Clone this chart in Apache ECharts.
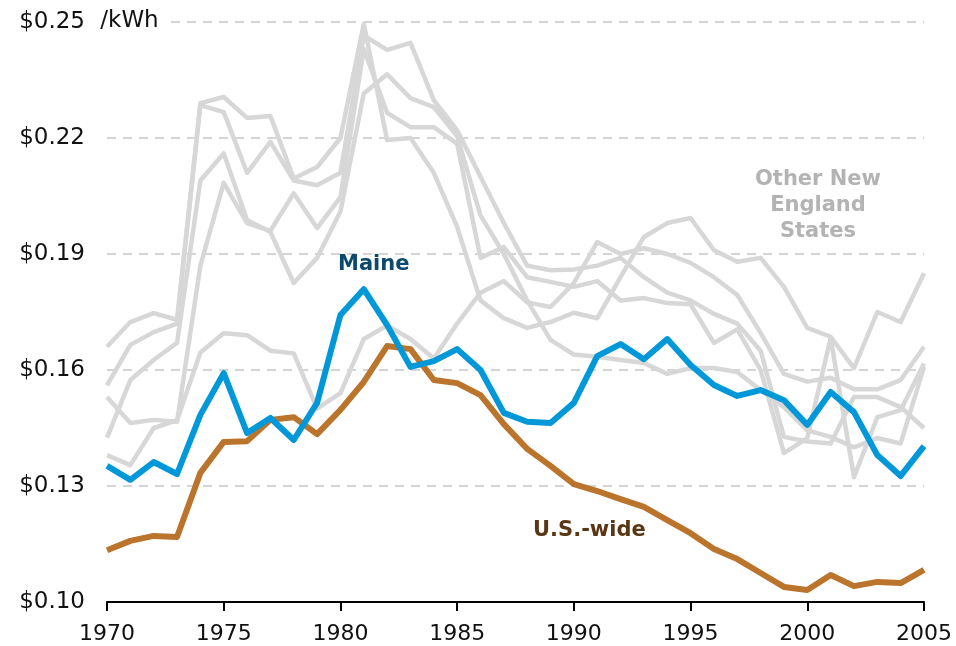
<!DOCTYPE html>
<html>
<head>
<meta charset="utf-8">
<script src="https://cdn.jsdelivr.net/npm/echarts@6/dist/echarts.min.js"></script>
<style>
  html, body { margin: 0; padding: 0; background: #fff; }
  #chart { width: 956px; height: 646px; }
</style>
</head>
<body>
<div id="chart"></div>
<script>
// years on the x axis
var years = [1970, 1971, 1972, 1973, 1974, 1975, 1976, 1977, 1978, 1979,
             1980, 1981, 1982, 1983, 1984, 1985, 1986, 1987, 1988, 1989,
             1990, 1991, 1992, 1993, 1994, 1995, 1996, 1997, 1998, 1999,
             2000, 2001, 2002, 2003, 2004, 2005];

// $/kWh
var maine = [0.1352, 0.1316, 0.1362, 0.1331, 0.1484, 0.1592, 0.1437, 0.1476, 0.1419, 0.1515,
             0.1742, 0.1809, 0.1716, 0.1608, 0.1623, 0.1654, 0.1600, 0.1489, 0.1466, 0.1463,
             0.1515, 0.1636, 0.1667, 0.1628, 0.1680, 0.1613, 0.1561, 0.1533, 0.1548, 0.1522,
             0.1458, 0.1543, 0.1491, 0.1380, 0.1326, 0.1403];

var usWide = [0.1134, 0.1158, 0.1171, 0.1168, 0.1334, 0.1414, 0.1416, 0.1471, 0.1478, 0.1434,
              0.1497, 0.1569, 0.1662, 0.1654, 0.1574, 0.1566, 0.1535, 0.1460, 0.1396, 0.1352,
              0.1305, 0.1287, 0.1266, 0.1246, 0.1212, 0.1178, 0.1137, 0.1111, 0.1075, 0.1039,
              0.1031, 0.1070, 0.1041, 0.1052, 0.1049, 0.1083];

// the other five New England states (grey)
var other1 = [0.166, 0.1724, 0.1747, 0.173, 0.229, 0.2306, 0.2252, 0.2257, 0.2095, 0.2125,
              0.220, 0.2495, 0.2195, 0.220, 0.211, 0.197, 0.178, 0.1734, 0.1709, 0.1724,
              0.1748, 0.1734, 0.184, 0.1944, 0.198, 0.1993, 0.191, 0.188, 0.189, 0.1815,
              0.1709, 0.1686, 0.1605, 0.175, 0.1724, 0.185];
var other2 = [0.156, 0.1665, 0.1698, 0.172, 0.2285, 0.2267, 0.211, 0.219, 0.209, 0.2078,
              0.211, 0.2465, 0.2428, 0.2446, 0.2298, 0.222, 0.210, 0.198, 0.187, 0.1858,
              0.186, 0.187, 0.189, 0.184, 0.180, 0.178, 0.1745, 0.172, 0.165, 0.1427,
              0.1415, 0.141, 0.153, 0.153, 0.1504, 0.145];
var other3 = [0.1425, 0.1574, 0.1626, 0.167, 0.209, 0.216, 0.1988, 0.1957, 0.1825, 0.189,
              0.201, 0.2315, 0.2365, 0.2303, 0.228, 0.2205, 0.200, 0.190, 0.178, 0.1678,
              0.164, 0.1634, 0.1626, 0.1618, 0.159, 0.1605, 0.1605, 0.1595, 0.1548, 0.1504,
              0.1444, 0.1427, 0.140, 0.1424, 0.141, 0.1608];
var other4 = [0.153, 0.1463, 0.1471, 0.1466, 0.187, 0.2084, 0.198, 0.196, 0.2057, 0.1967,
              0.2047, 0.243, 0.2265, 0.2228, 0.2228, 0.2185, 0.189, 0.1918, 0.184, 0.1828,
              0.1815, 0.183, 0.178, 0.1786, 0.1773, 0.177, 0.167, 0.1705, 0.160, 0.1385,
              0.1424, 0.1683, 0.1323, 0.1478, 0.1496, 0.1617];
var other5 = [0.138, 0.1354, 0.145, 0.147, 0.1645, 0.1695, 0.169, 0.165, 0.1643, 0.150,
              0.154, 0.168, 0.1715, 0.168, 0.163, 0.172, 0.180, 0.183, 0.1775, 0.1763,
              0.1825, 0.1931, 0.190, 0.1915, 0.190, 0.1877, 0.184, 0.1794, 0.1696, 0.159,
              0.157, 0.158, 0.155, 0.155, 0.1574, 0.166];

var yTicks = [0.10, 0.13, 0.16, 0.19, 0.22, 0.25];

function pairs(vals) {
    return years.map(function (y, i) { return [y, vals[i]]; });
}

function greyLine(name, vals) {
    return {
        name: name,
        type: 'line',
        data: pairs(vals),
        symbol: 'none',
        silent: true,
        lineStyle: { color: '#d7d7d7', width: 4.5, join: 'round' },
        z: 2
    };
}

var font = 'DejaVu Sans, Verdana, sans-serif';
var chart = echarts.init(document.getElementById('chart'));

chart.setOption({
    animation: false,
    grid: { left: 107, right: 32, top: 22, bottom: 44 },
    xAxis: {
        type: 'value',
        min: 1970,
        max: 2005,
        interval: 5,
        axisLine: { lineStyle: { color: '#000', width: 2 } },
        axisTick: { show: true, length: 9, lineStyle: { color: '#000', width: 2 } },
        axisLabel: {
            color: '#111', fontSize: 22, fontFamily: font, margin: 21,
            formatter: function (v) { return String(v); }
        },
        splitLine: { show: false }
    },
    yAxis: {
        type: 'value',
        min: yTicks[0],
        max: yTicks[yTicks.length - 1],
        interval: 0.03,
        axisLine: { show: false },
        axisTick: { show: false },
        axisLabel: {
            color: '#111', fontSize: 23, fontFamily: font, margin: 22,
            formatter: function (v) { return '$' + v.toFixed(2); }
        },
        splitLine: { lineStyle: { color: '#d4d4d4', width: 2, type: [9, 7] } }
    },
    series: [
        greyLine('Other 1', other1),
        greyLine('Other 2', other2),
        greyLine('Other 3', other3),
        greyLine('Other 4', other4),
        greyLine('Other 5', other5),
        {
            name: 'U.S.-wide',
            type: 'line',
            data: pairs(usWide),
            symbol: 'none',
            lineStyle: { color: '#bb742c', width: 6, join: 'round' },
            z: 3
        },
        {
            name: 'Maine',
            type: 'line',
            data: pairs(maine),
            symbol: 'none',
            lineStyle: { color: '#0098d8', width: 6, join: 'round' },
            z: 4
        }
    ],
    graphic: [
        { type: 'text', x: 93, y: 8, z: 10,
          style: { text: ' /kWh', fill: '#111', font: '23px ' + font, backgroundColor: '#fff', padding: [2, 6, 2, 0] } },
        { type: 'text', x: 338, y: 254, z: 10,
          style: { text: 'Maine', fill: '#0b4a6e', font: 'bold 21px ' + font } },
        { type: 'text', x: 533, y: 520, z: 10,
          style: { text: 'U.S.-wide', fill: '#5a3614', font: 'bold 21px ' + font } },
        { type: 'text', x: 818, y: 167, z: 10,
          style: { text: 'Other New\nEngland\nStates', fill: '#b3b3b3', font: 'bold 21px ' + font,
                   align: 'center', lineHeight: 26 } }
    ]
});
</script>
</body>
</html>
